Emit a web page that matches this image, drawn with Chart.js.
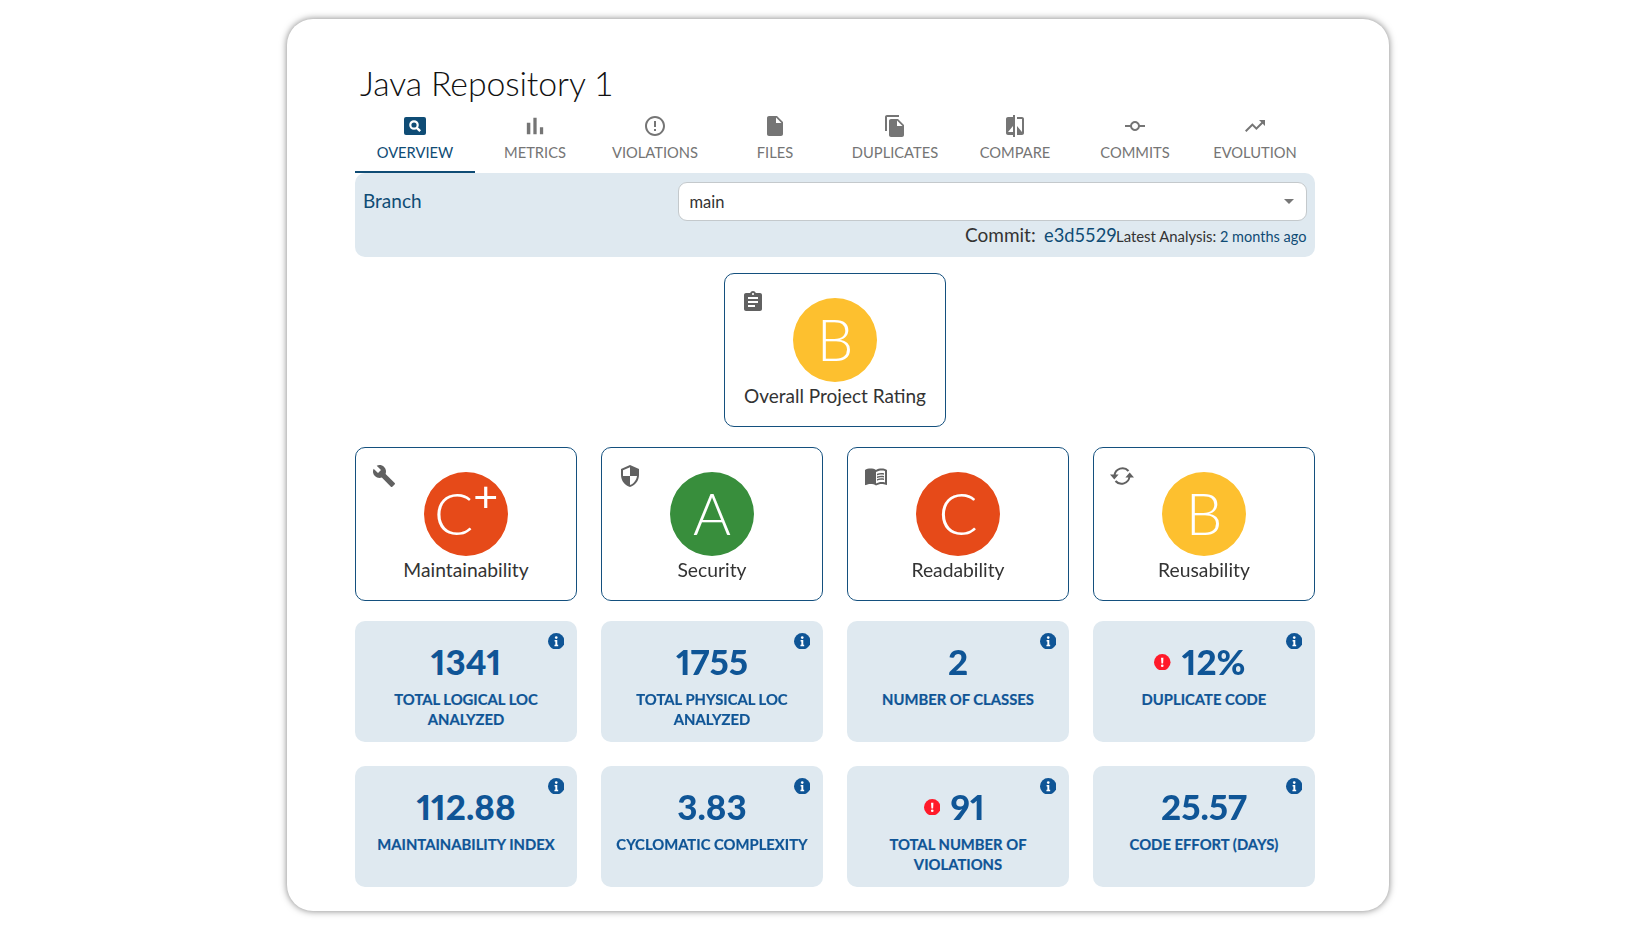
<!DOCTYPE html>
<html><head><meta charset="utf-8">
<script src="https://cdn.jsdelivr.net/npm/chart.js@4"></script>
<style>
html,body{margin:0;padding:0;background:#fff;width:1634px;height:928px;overflow:hidden;font-family:Lato,sans-serif}
#page{position:absolute;left:0;top:0;width:1634px;height:928px}
.abs{position:absolute}
.t{position:absolute;white-space:nowrap;line-height:1.2}
.main{background:#fff;border-radius:26px;box-shadow:0 0 7px rgba(0,0,0,.5)}
.panel{background:#dfe9f0;border-radius:10px}
.card{background:#fff;border:1.2px solid #14507e;border-radius:10px;box-sizing:border-box}
canvas{position:absolute;display:block}
svg{position:absolute;display:block}
</style></head><body><div id="page"></div>
<script>
const pageTitle = "Java Repository 1";
const tabLabels = ["OVERVIEW","METRICS","VIOLATIONS","FILES","DUPLICATES","COMPARE","COMMITS","EVOLUTION"];
const branchLabel = "Branch";
const branchValue = "main";
const commitLabel = "Commit:";
const commitHash = "e3d5529";
const analysisLabel = "Latest Analysis:";
const analysisAge = "2 months ago";
const overallLabel = "Overall Project Rating";
const overallGrade = "B";
const ratingLabels = ["Maintainability","Security","Readability","Reusability"];
const ratingGrades = ["C+","A","C","B"];
const metricValues = ["1341","1755","2","12%","112.88","3.83","91","25.57"];
const metricLabels = ["TOTAL LOGICAL LOC ANALYZED","TOTAL PHYSICAL LOC ANALYZED","NUMBER OF CLASSES","DUPLICATE CODE","MAINTAINABILITY INDEX","CYCLOMATIC COMPLEXITY","TOTAL NUMBER OF VIOLATIONS","CODE EFFORT (DAYS)"];
const metricAlerts = [false,false,false,true,false,false,true,false];
const gradeColors = {A:"#388e3c",B:"#fdc02f",C:"#e64a19","C+":"#e64a19"};

const ICON = {
 bars:'<path d="M5 9.2h3V19H5zM10.6 5h2.8v14h-2.8zm5.6 8H19v6h-2.8z"/>',
 error:'<path d="M11 15h2v2h-2zm0-8h2v6h-2zm.99-5C6.47 2 2 6.48 2 12s4.47 10 9.99 10C17.52 22 22 17.52 22 12S17.52 2 11.99 2zM12 20c-4.42 0-8-3.58-8-8s3.58-8 8-8 8 3.58 8 8-3.58 8-8 8z"/>',
 file:'<path d="M6 2c-1.1 0-1.99.9-1.99 2L4 20c0 1.1.89 2 1.99 2H18c1.1 0 2-.9 2-2V8l-6-6H6zm7 7V3.5L18.5 9H13z"/>',
 copy:'<path d="M16 1H4c-1.1 0-2 .9-2 2v14h2V3h12V1zm-1 4l6 6v10c0 1.1-.9 2-2 2H7.99C6.89 23 6 22.1 6 21l.01-14c0-1.1.89-2 1.99-2h7zm-1 7h5.5L14 6.5V12z"/>',
 compare:'<path d="M10 3H5c-1.1 0-2 .9-2 2v14c0 1.1.9 2 2 2h5v2h2V1h-2v2zm0 15H5l5-6v6zm9-15h-5v2h5v13l-5-6v9h5c1.1 0 2-.9 2-2V5c0-1.1-.9-2-2-2z"/>',
 commit:'<path d="M16.9 11c-.46-2.28-2.48-4-4.9-4s-4.44 1.72-4.9 4H2v2h5.1c.46 2.28 2.48 4 4.9 4s4.44-1.72 4.9-4H22v-2h-5.1zM12 15c-1.66 0-3-1.34-3-3s1.34-3 3-3 3 1.34 3 3-1.34 3-3 3z"/>',
 trend:'<path d="M16 6l2.29 2.29-4.88 4.88-4-4L2 16.59 3.41 18l6-6 4 4 6.3-6.29L22 12V6z"/>',
 search:'<rect x="1" y="3" width="22" height="18" rx="2"/><circle cx="11" cy="11" r="3.7" fill="none" stroke="#fff" stroke-width="2.2"/><path d="M13.8 13.8l3.4 3.4" stroke="#fff" stroke-width="2.4"/>',
 assignment:'<path d="M19 3h-4.18C14.4 1.84 13.3 1 12 1c-1.3 0-2.4.84-2.82 2H5c-1.1 0-2 .9-2 2v14c0 1.1.9 2 2 2h14c1.1 0 2-.9 2-2V5c0-1.1-.9-2-2-2zm-7 0c.55 0 1 .45 1 1s-.45 1-1 1-1-.45-1-1 .45-1 1-1zm2 14H7v-2h7v2zm3-4H7v-2h10v2zm0-4H7V7h10v2z"/>',
 wrench:'<path d="M22.7 19l-9.1-9.1c.9-2.3.4-5-1.5-6.9-2-2-5-2.4-7.4-1.3L9 6 6 9 1.6 4.7C.4 7.1.9 10.1 2.9 12.1c1.9 1.9 4.6 2.4 6.9 1.5l9.1 9.1c.4.4 1 .4 1.4 0l2.3-2.3c.5-.4.5-1.1.1-1.4z"/>',
 shield:'<path d="M12 1L3 5v6c0 5.55 3.84 10.74 9 12 5.16-1.26 9-6.45 9-12V5l-9-4zm0 10.99h7c-.53 4.12-3.28 7.79-7 8.94V12H5V6.3l7-3.11v8.8z"/>',
 book:'<path d="M21 5c-1.11-.35-2.33-.5-3.5-.5-1.95 0-4.05.4-5.5 1.5-1.45-1.1-3.55-1.5-5.5-1.5S2.45 4.9 1 6v14.65c0 .25.25.5.5.5.1 0 .15-.05.25-.05C3.1 20.45 5.05 20 6.5 20c1.95 0 4.05.4 5.5 1.5 1.35-.85 3.8-1.5 5.5-1.5 1.65 0 3.35.3 4.75 1.05.1.05.15.05.25.05.25 0 .5-.25.5-.5V6c-.6-.45-1.25-.75-2-1zm0 13.5c-1.1-.35-2.3-.5-3.5-.5-1.7 0-4.15.65-5.5 1.5V8c1.35-.85 3.8-1.5 5.5-1.5 1.2 0 2.4.15 3.5.5v11.5z"/><path d="M17.5 10.5c.88 0 1.73.09 2.5.26V9.24c-.79-.15-1.64-.24-2.5-.24-1.7 0-3.24.29-4.5.83v1.66c1.13-.64 2.7-.99 4.5-.99zM13 12.49v1.66c1.13-.64 2.7-.99 4.5-.99.88 0 1.73.09 2.5.26V11.9c-.79-.15-1.64-.24-2.5-.24-1.7 0-3.24.3-4.5.83zM17.5 14.33c-1.7 0-3.24.29-4.5.83v1.66c1.13-.64 2.7-.99 4.5-.99.88 0 1.73.09 2.5.26v-1.52c-.79-.16-1.64-.24-2.5-.24z"/>',
 sync:'<path d="M4.5 11.5A8 8 0 0 1 18.5 7" fill="none" stroke="currentColor" stroke-width="2"/><path d="M19.5 12.5A8 8 0 0 1 5.5 17" fill="none" stroke="currentColor" stroke-width="2"/><path d="M0 10.5h8.6l-4.3 5zM15.4 13.5H24l-4.3-5z"/>',
 info:'<circle cx="12" cy="12" r="12"/><circle cx="12" cy="6.7" r="1.9" fill="#fff"/><path d="M9.6 10.2h3.9v7h1.3v2H9.4v-2h1.3v-5H9.6z" fill="#fff"/>',
 alert:'<circle cx="12" cy="12" r="12"/><path d="M10.3 5.5h3.4l-.5 8.2h-2.4z" fill="#fff"/><circle cx="12" cy="17" r="1.9" fill="#fff"/>'
};
const tabIcons = ["search","bars","error","file","copy","compare","commit","trend"];
const ratingIcons = ["wrench","shield","book","sync"];

const page = document.getElementById("page");
function box(cls, x, y, w, h, parent){
  const d = document.createElement("div");
  d.className = "abs " + cls;
  d.style.cssText = `left:${x}px;top:${y}px;width:${w}px;height:${h}px`;
  (parent||page).appendChild(d); return d;
}
function text(str, x, base, size, color, o){
  o = o||{};
  const s = document.createElement("div");
  s.className = "t"; s.textContent = str;
  const align = o.align||"left";
  let left = x;
  if(align==="center") left = x-500;
  s.style.cssText = `left:${left}px;top:${base-0.987*size}px;font-size:${size}px;color:${color};font-weight:${o.weight||400};`+
    (align==="center"?"width:1000px;text-align:center;":"")+(o.ls?`letter-spacing:${o.ls}px;`:"");
  page.appendChild(s); return s;
}
function icon(name, cx, cy, size, color){
  const n = document.createElementNS("http://www.w3.org/2000/svg","svg");
  n.setAttribute("viewBox","0 0 24 24");
  n.setAttribute("width",size); n.setAttribute("height",size);
  n.style.cssText = `left:${cx-size/2}px;top:${cy-size/2}px;color:${color};fill:${color};`;
  n.innerHTML = ICON[name];
  page.appendChild(n); return n;
}
function badge(grade, cx, cy){
  const d = 84;
  const c = document.createElement("canvas");
  c.style.left = (cx-d/2)+"px"; c.style.top = (cy-d/2)+"px";
  c.width = d; c.height = d; c.style.width = d+"px"; c.style.height = d+"px";
  page.appendChild(c);
  new Chart(c,{type:"pie",data:{labels:[grade],datasets:[{data:[1],backgroundColor:[gradeColors[grade]],borderWidth:0}]},
    options:{responsive:false,animation:false,layout:{padding:0},plugins:{legend:{display:false},tooltip:{enabled:false}},events:[]}});
  const el = text(grade[0], cx, cy+21, 58, "#fff", {align:"center",weight:300});
  if(grade.length>1){
    const sup = document.createElement("span");
    sup.textContent = grade.slice(1);
    sup.style.cssText = "font-size:43px;font-weight:400;position:relative;top:-23px";
    el.appendChild(sup);
  }
}

box("main",287,19,1102,892);
text(pageTitle,360,96.5,33.8,"#111",{weight:300,ls:-0.1});
tabLabels.forEach((l,i)=>{
  const cx = 415+120*i, active = i===0;
  icon(tabIcons[i],cx,125.5,tabIcons[i]==="bars"?28:24,active?"#0f4c75":"#757575");
  text(l,cx,159,14.7,active?"#0f4c75":"#757575",{align:"center"});
});
box("",355,171,120,2).style.background="#0f4c75";
box("panel",355,173,960,84);
text(branchLabel,363,209,19,"#0f4c75");
const sel = box("",678,181.5,629,39.5); sel.style.cssText += ";background:#fff;border:1px solid #c4c9cc;border-radius:9px;box-sizing:border-box";
text(branchValue,689.5,209,16.5,"#333");
const caret = box("",1283.5,199,0,0);
caret.style.cssText += ";border-left:5px solid transparent;border-right:5px solid transparent;border-top:5px solid #777";
text(commitLabel,965,243,19,"#333");
text(commitHash,1044,243,18.3,"#0f4c75");
text(analysisLabel,1116,242.5,14.9,"#333");
text(analysisAge,1220,242.5,14.5,"#0f4c75");

const colX = [355,601,847,1093];
box("card",724,273,222,154);
icon("assignment",753,301.5,24,"#616161");
badge(overallGrade,835,340);
text(overallLabel,835,403.5,19,"#333",{align:"center"});

ratingLabels.forEach((l,i)=>{
  const x = colX[i], cx = x+111;
  box("card",x,447,222,154);
  const ix=[384,630,876,1122][i];
  icon(ratingIcons[i],ix,476,24,"#616161");
  badge(ratingGrades[i],cx,514);
  text(l,cx,577.5,19.3,"#333",{align:"center"});
});

metricValues.forEach((v,i)=>{
  const col = i%4, row = Math.floor(i/4);
  const x = colX[col], y = [621,766][row], cx = x+111;
  box("panel",x,y,222,121);
  icon("info",x+201,y+20,16.5,"#0f5596");
  const vEl = text(v,cx,y+54,35,"#0f5596",{align:"center",weight:900});
  vEl.style.fontVariantNumeric = "proportional-nums";
  vEl.style.letterSpacing = "0px";
  if(metricAlerts[i]){
    vEl.style.left = (cx-500+9.7)+"px";
    const offs = v.length>2 ? -41.5 : -26;
    icon("alert",cx+offs,y+41,16.5,"#ff1a2a");
  }
  const lb = document.createElement("div");
  lb.className="abs"; lb.textContent=metricLabels[i];
  lb.style.cssText=`left:${cx-100}px;top:${y+68}px;width:200px;text-align:center;color:#0f5596;font-weight:700;font-size:14.8px;line-height:20px;-webkit-text-stroke:0.2px #0f5596`;
  page.appendChild(lb);
});
</script></body></html>
